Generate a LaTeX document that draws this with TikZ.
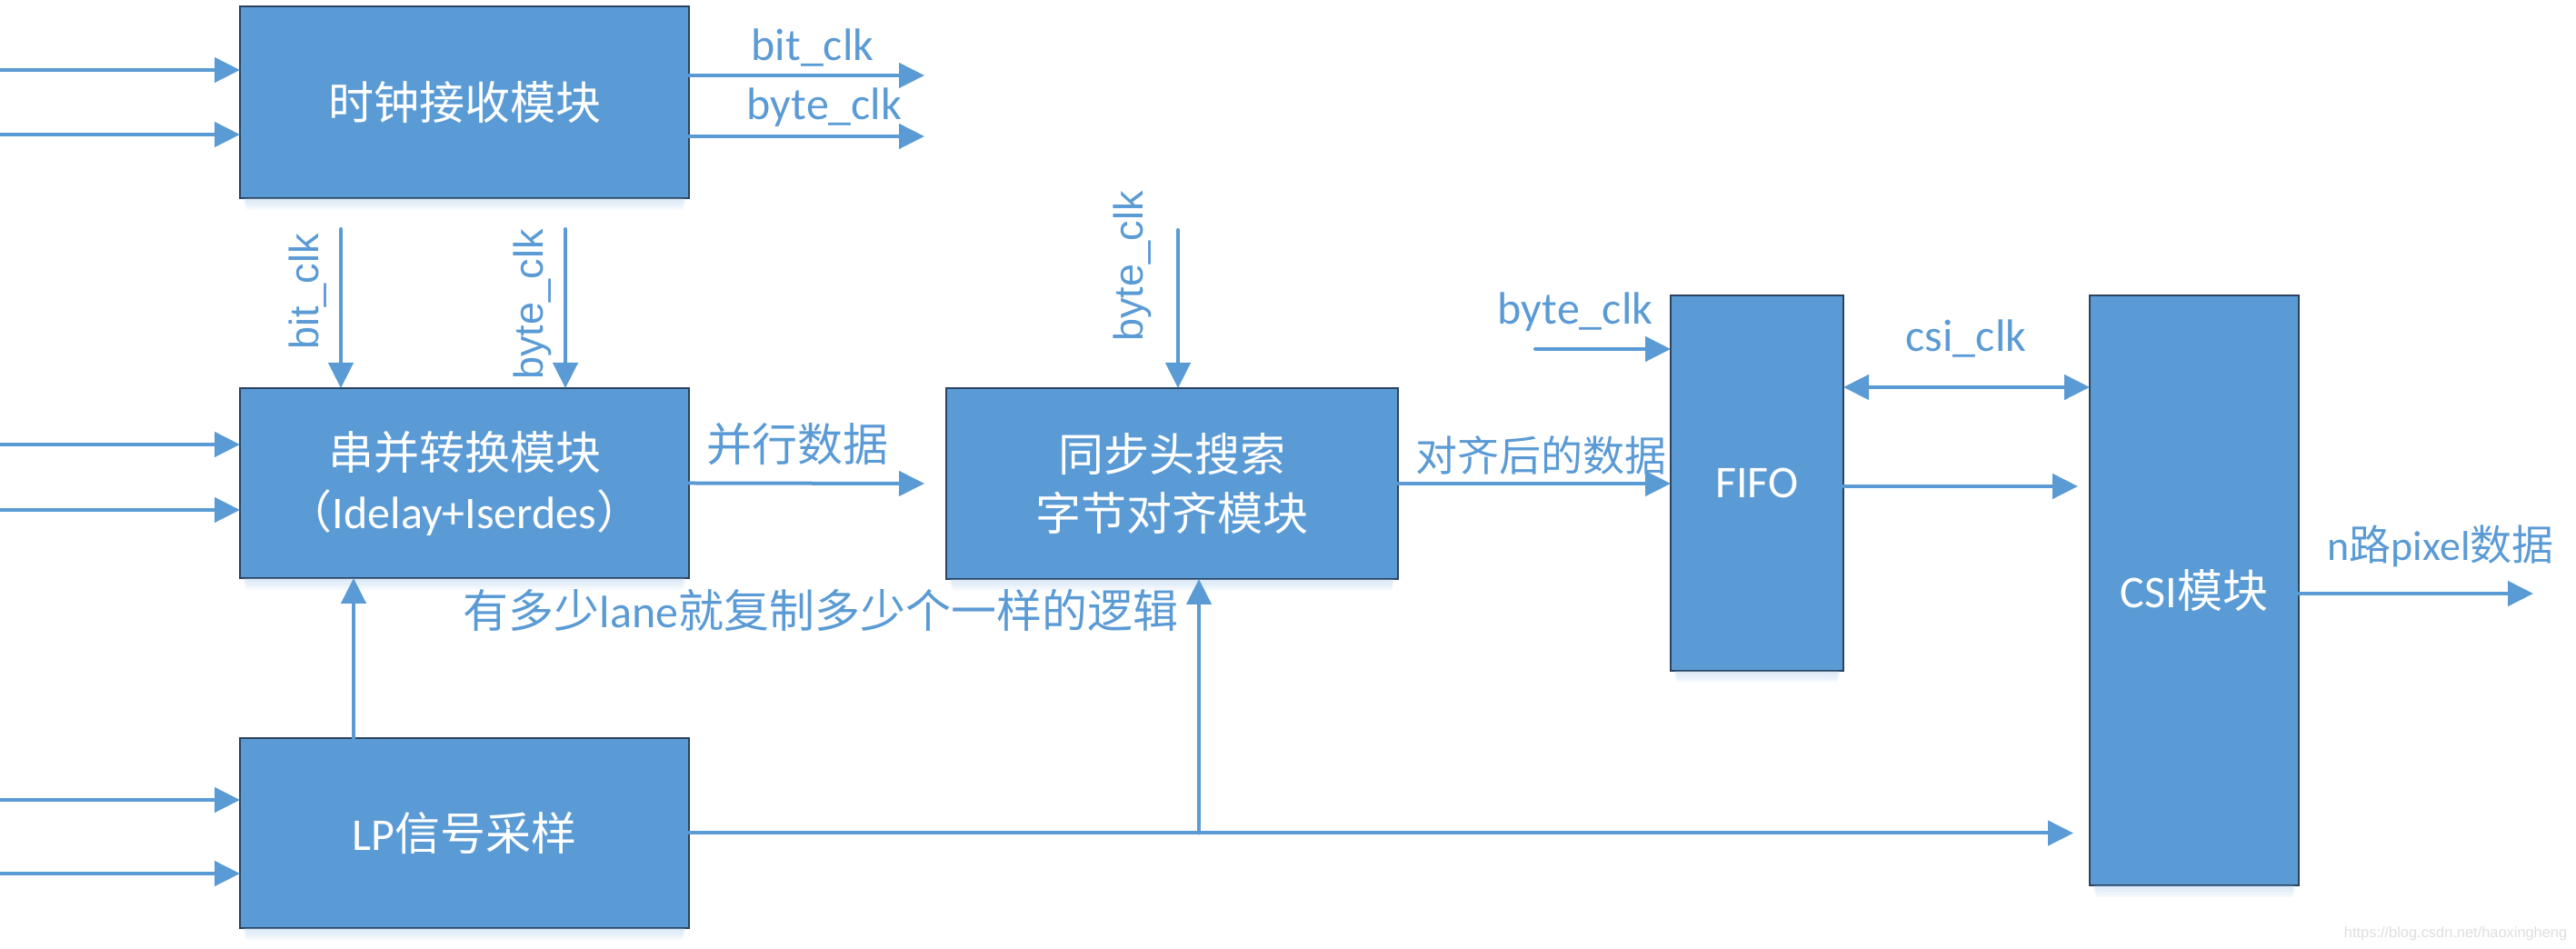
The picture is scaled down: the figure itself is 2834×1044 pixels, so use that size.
\documentclass[tikz,border=0pt]{standalone}
\usepackage{fontspec}
\setmainfont{Carlito}
\newfontfamily\cjkfont{Noto Sans CJK SC}
\newfontfamily\arialfont{Liberation Sans}
\usetikzlibrary{arrows.meta,calc}
\definecolor{boxblue}{HTML}{5B9BD5}
\definecolor{edgeblue}{HTML}{2B4360}
\definecolor{shadowblue}{HTML}{9DC3E6}
\newcommand\zhtext[1]{{\cjkfont #1}}
% soft shadow under a block
\newcommand\blockshadow[1]{%
  \foreach \i in {1,...,6}{%
    \fill[shadowblue,opacity=0.08] ($(#1.south west)+(2+\i*0.8,0.5)$) rectangle ($(#1.south east)+(-2-\i*0.8,\i*2.2)$);
  }%
}
\begin{document}
\begin{tikzpicture}[x=0.25pt,y=-0.25pt,
  blk/.style={draw=edgeblue, fill=boxblue, line width=0.4pt, inner sep=0pt, outer sep=0pt,
    text=white, align=center, font=\fontsize{12.5pt}{16.25pt}\selectfont},
  arr/.style={draw=boxblue, line width=1pt, line cap=round, -{Triangle[length=7pt,width=6.8pt]}},
  arrboth/.style={draw=boxblue, line width=1pt,
    {Triangle[length=7pt,width=6.8pt]}-{Triangle[length=7pt,width=6.8pt]}},
  lbl/.style={text=boxblue, inner sep=0pt, anchor=base, font=\fontsize{12.5pt}{14pt}\selectfont},
  lblsm/.style={text=boxblue, inner sep=0pt, anchor=base, font=\fontsize{11.5pt}{13pt}\selectfont},
  vlbl/.style={text=boxblue, inner sep=0pt, rotate=90, anchor=base, font=\arialfont\fontsize{11.25pt}{13pt}\selectfont},
]
\useasboundingbox (0,0) rectangle (2834,1044);

% blocks
\node[blk, minimum width=123.5pt, minimum height=52.75pt] (clk) at (511,112.5) {\zhtext{时钟接收模块}};
\node[blk, minimum width=123.5pt, minimum height=52.25pt] (s2p) at (511,531.5) {\zhtext{串并转换模块}\\\zhtext{（}Idelay+Iserdes\zhtext{）}};
\node[blk, minimum width=123.5pt, minimum height=52.25pt] (lp) at (511,916.5) {LP\zhtext{信号采样}};
\node[blk, minimum width=124.25pt, minimum height=52.5pt] (sync) at (1289.5,532) {\zhtext{同步头搜索}\\\zhtext{字节对齐模块}};
\node[blk, minimum width=47.5pt, minimum height=103.25pt] (fifo) at (1933,531.5) {FIFO};
\node[blk, minimum width=57.5pt, minimum height=162.25pt] (csi) at (2414,649.5) {CSI\zhtext{模块}};

\blockshadow{clk}
\blockshadow{s2p}
\blockshadow{lp}
\blockshadow{sync}
\blockshadow{fifo}
\blockshadow{csi}

% free ends of the connectors
\coordinate (in1) at (0,77);
\coordinate (in2) at (0,148);
\coordinate (in3) at (0,489);
\coordinate (in4) at (0,561);
\coordinate (in5) at (0,880);
\coordinate (in6) at (0,961);
\coordinate (bitout) at (1017,83);
\coordinate (byteout) at (1017,150);
\coordinate (bitin) at (375,252);
\coordinate (bytein) at (622,252);
\coordinate (syncclk) at (1296,253);
\coordinate (lpup) at (389,0);
\coordinate (branch) at (1319,0);
\coordinate (fifoclk) at (1689,384);
\coordinate (csiclk) at (0,426);
\coordinate (fifodata) at (0,535);
\coordinate (pixout) at (2787,653);

% inputs
\draw[arr] (in1) -- (in1 -| clk.west);
\draw[arr] (in2) -- (in2 -| clk.west);
\draw[arr] (in3) -- (in3 -| s2p.west);
\draw[arr] (in4) -- (in4 -| s2p.west);
\draw[arr] (in5) -- (in5 -| lp.west);
\draw[arr] (in6) -- (in6 -| lp.west);

% clocks
\draw[arr] (bitout -| clk.east) -- (bitout);
\draw[arr] (byteout -| clk.east) -- (byteout);
\draw[arr] (bitin) -- (bitin |- s2p.north);
\draw[arr] (bytein) -- (bytein |- s2p.north);
\draw[arr] (syncclk) -- (syncclk |- sync.north);
\draw[arr] (fifoclk) -- (fifoclk -| fifo.west);
\draw[arrboth] (csiclk -| fifo.east) -- (csiclk -| csi.west);

% data path
\draw[arr] (s2p.east) -- ($(sync.west)+(-24,0)$);
\draw[arr] (sync.east) -- (sync.east -| fifo.west);
\draw[arr] (fifodata -| fifo.east) -- ($(fifodata -| csi.west)+(-13,0)$);
\draw[arr] (pixout -| csi.east) -- (pixout);
\draw[arr] (lpup |- lp.north) -- (lpup |- s2p.south);
\draw[arr] (lp.east) -- ($(lp.east -| csi.west)+(-18,0)$);
\draw[arr] (branch |- lp.east) -- (branch |- sync.south);

% labels
\node[lbl] (lbitout) at (894,67) {bit\_clk};
\node[lbl] (lbyteout) at (907,132) {byte\_clk};
\node[vlbl] (lbitin) at (350,321) {bit\_clk};
\node[vlbl] (lbytein) at (597,335) {byte\_clk};
\node[vlbl] (lsyncclk) at (1257,293) {byte\_clk};
\node[lbl] (lpar) at (877,508) {\zhtext{并行数据}};
\node[lblsm] (laligned) at (1695,519) {\zhtext{对齐后的数据}};
\node[lbl, anchor=base west] (lnote) at (509,691) {\zhtext{有多少}lane\zhtext{就复制多少个一样的逻辑}};
\node[lbl] (lfifoclk) at (1733,357) {byte\_clk};
\node[lbl] (lcsiclk) at (2163,387) {csi\_clk};
\node[lblsm] (lpix) at (2685,617) {n\zhtext{路}pixel\zhtext{数据}};

% site mark
\node[anchor=base east, inner sep=0pt, text=black!13, font=\arialfont\fontsize{4.1pt}{5pt}\selectfont] (wm) at (2825,1032) {https://blog.csdn.net/haoxingheng};
\end{tikzpicture}
\end{document}
